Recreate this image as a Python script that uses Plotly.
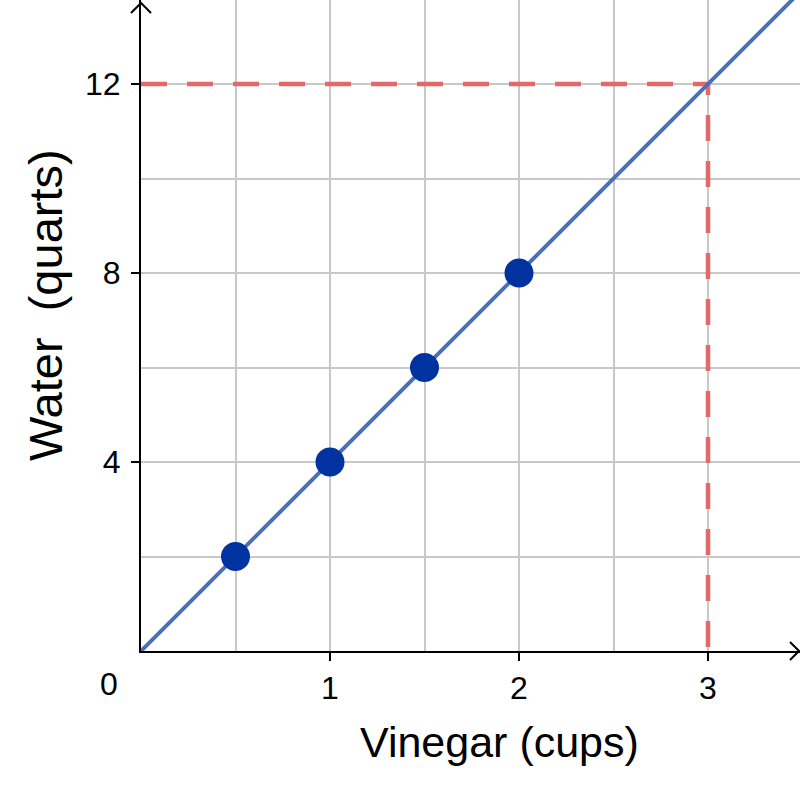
import plotly.graph_objects as go

# Data
vinegar_cups = [0.5, 1, 1.5, 2]
water_quarts = [2, 4, 6, 8]
line_x = [0, 3.6]
line_y = [0, 14.4]
ref_x = 3
ref_y = 12
x_ticks = [1, 2, 3]
y_ticks = [4, 8, 12]

FONT = "Liberation Sans, Arial, sans-serif"
RED = "#e46868"
BLUE_LINE = "#4a70bd"
DOT = "#0033a0"
GRID = "#c8c8c8"
TICK_SIZE = 32

fig = go.Figure()

# reference dashed lines
fig.add_trace(go.Scatter(x=[0, ref_x, ref_x], y=[ref_y, ref_y, 0], mode="lines",
                         line=dict(color=RED, width=4.5, dash="26px,20px"),
                         hoverinfo="skip", showlegend=False, cliponaxis=False))
# proportional line
fig.add_trace(go.Scatter(x=line_x, y=line_y, mode="lines",
                         line=dict(color=BLUE_LINE, width=4),
                         hoverinfo="skip", showlegend=False))
# points
fig.add_trace(go.Scatter(x=vinegar_cups, y=water_quarts, mode="markers",
                         marker=dict(color=DOT, size=29),
                         showlegend=False))

fig.update_layout(
    width=800, height=785,
    margin=dict(l=141, r=0, t=0, b=134),
    paper_bgcolor="white", plot_bgcolor="white",
    font=dict(family=FONT, size=TICK_SIZE, color="black"),
    xaxis=dict(range=[0, 659 / 189], tickvals=x_ticks, ticks="outside", ticklen=8,
               tickwidth=2, tickcolor="black", showgrid=True, gridcolor=GRID, gridwidth=1.5,
               minor=dict(dtick=0.5, tick0=0, showgrid=True, gridcolor=GRID, gridwidth=1.5),
               showline=True, linecolor="black", linewidth=2, zeroline=False,
               ticklabelstandoff=0, tickfont=dict(size=TICK_SIZE, family=FONT)),
    yaxis=dict(range=[0, 651 / 47.25], tickvals=y_ticks, ticks="outside", ticklen=8,
               tickwidth=2, tickcolor="black", showgrid=True, gridcolor=GRID, gridwidth=1.5,
               minor=dict(dtick=2, tick0=0, showgrid=True, gridcolor=GRID, gridwidth=1.5),
               showline=True, linecolor="black", linewidth=2, zeroline=False,
               ticklabelstandoff=4, tickfont=dict(size=TICK_SIZE, family=FONT)),
)

# origin label
fig.add_annotation(x=(109 - 141) / 659, y=(651 - 683.5) / 651, xref="paper", yref="paper",
                   text="0", showarrow=False, xanchor="center", yanchor="middle",
                   font=dict(size=TICK_SIZE, family=FONT))
# axis titles
fig.add_annotation(x=(500 - 141) / 659, y=(651 - 742) / 651, xref="paper", yref="paper",
                   text="Vinegar (cups)", showarrow=False, xanchor="center", yanchor="middle",
                   font=dict(size=43, family=FONT))
fig.add_annotation(x=(45 - 141) / 659, y=(651 - 305) / 651, xref="paper", yref="paper",
                   text="Water  (quarts)", showarrow=False, xanchor="center", yanchor="middle",
                   textangle=-90, font=dict(size=47, family=FONT))

# arrowheads
fig.add_shape(type="path", xref="paper", yref="paper", xsizemode="pixel", ysizemode="pixel",
              xanchor=0, yanchor=1, path="M -10,-13 L 0,-3 L 10,-13",
              line=dict(color="black", width=2))
fig.add_shape(type="path", xref="paper", yref="paper", xsizemode="pixel", ysizemode="pixel",
              xanchor=1, yanchor=0, path="M -10,9 L -1,0 L -10,-9",
              line=dict(color="black", width=2))

fig.write_html("out.html")
